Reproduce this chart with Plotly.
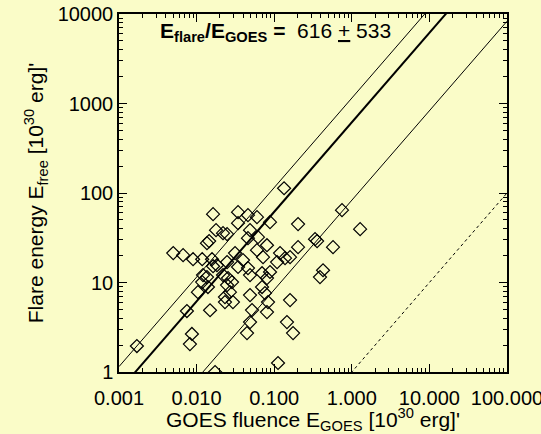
import numpy as np
import plotly.graph_objects as go

# GOES fluence (10^30 erg) and free flare energy (10^30 erg) per event
goes_fluence = [
    0.0017, 0.0050, 0.0067, 0.0090, 0.0118, 0.0136, 0.0145, 0.0158, 0.0163, 0.0163,
    0.0178, 0.0247, 0.0121, 0.0136, 0.0118, 0.0104, 0.0140, 0.0075, 0.0149, 0.0087,
    0.0082, 0.0173, 0.0342, 0.0459, 0.0600, 0.0883, 0.203, 0.0219, 0.0342, 0.0488,
    0.0618, 0.0807, 0.203, 0.0600, 0.0718, 0.119, 0.138, 0.109, 0.0183, 0.0247,
    0.0313, 0.0342, 0.0459, 0.0396, 0.0219, 0.0254, 0.0286, 0.0697, 0.0883, 0.0807,
    0.0247, 0.0269, 0.0232, 0.0294, 0.0488, 0.0518, 0.0697, 0.0760, 0.0832, 0.0807,
    0.160, 0.0488, 0.0446, 0.146, 0.175, 0.112, 0.748, 1.28, 0.336, 0.357,
    0.573, 0.160, 0.426, 0.389, 0.134, 0.0459, 0.0488, 0.0232,
]
free_energy = [
    1.95, 21.3, 20.2, 18.2, 18.2, 27.5, 29.0, 18.2, 15.2, 58.0,
    38.4, 34.7, 12.1, 11.5, 10.1, 7.8, 8.9, 4.8, 4.9, 2.66,
    2.05, 1.0, 61.1, 56.5, 53.7, 47.2, 44.9, 35.6, 46.0, 38.4,
    32.1, 26.1, 24.8, 23.0, 19.2, 21.3, 18.7, 16.9, 15.6, 16.9,
    21.3, 14.9, 14.5, 17.8, 12.1, 11.2, 10.1, 12.7, 13.1, 11.2,
    9.35, 7.8, 6.87, 6.04, 7.23, 4.92, 8.9, 7.61, 6.04, 4.67,
    6.36, 3.61, 2.72, 3.61, 2.72, 1.26, 64.3, 39.4, 30.5, 29.0,
    24.8, 19.2, 13.7, 11.5, 113, 31.3, 12.1, 6.04,
]

# Energy ratio E_flare / E_GOES: mean and standard deviation
ratio_mean = 616
ratio_std = 533

x_tickvals = [0.001, 0.01, 0.1, 1, 10, 100]
x_ticktext = ["0.001", "0.010", "0.100", "1.000", "10.000", "100.000"]
y_tickvals = [1, 10, 100, 1000, 10000]
y_ticktext = ["1", "10", "100", "1000", "10000"]

bg = "#FAFCC8"
font_family = "Liberation Sans, Arial, sans-serif"

x_line = np.array([x_tickvals[0], x_tickvals[-1]])

fig = go.Figure()

# equality line E_flare = E_GOES
fig.add_trace(go.Scatter(x=x_line, y=x_line, mode="lines",
                         line=dict(color="black", width=1, dash="dot"),
                         showlegend=False, hoverinfo="skip"))
# mean ratio and +/- one standard deviation
for r, w in [(ratio_mean + ratio_std, 1), (ratio_mean, 2), (ratio_mean - ratio_std, 1)]:
    fig.add_trace(go.Scatter(x=x_line, y=r * x_line, mode="lines",
                             line=dict(color="black", width=w),
                             showlegend=False, hoverinfo="skip"))

fig.add_trace(go.Scatter(x=goes_fluence, y=free_energy, mode="markers",
                         marker=dict(symbol="diamond-open", size=10, color="black",
                                     line=dict(width=1.2, color="black")),
                         showlegend=False))

axis_common = dict(
    type="log", showgrid=False, zeroline=False, automargin=False,
    showline=True, linecolor="black", linewidth=1.5, mirror="allticks",
    ticks="inside", ticklen=8, tickwidth=1.2, tickcolor="black",
    minor=dict(ticks="inside", ticklen=4, tickwidth=1, tickcolor="black", dtick="D1"),
    tickfont=dict(family=font_family, size=20, color="black"),
    title_font=dict(family=font_family, size=21, color="black"),
    ticklabeloverflow="allow",
)

fig.update_xaxes(**axis_common, range=[-3, 2], tickmode="array",
                 tickvals=x_tickvals, ticktext=x_ticktext,
                 ticklabelstandoff=7,
                 title_text="GOES fluence E<sub>GOES</sub> [10<sup>30</sup> erg]'",
                 title_standoff=8)
fig.update_yaxes(**axis_common, range=[0, 4], tickmode="array",
                 tickvals=y_tickvals, ticktext=y_ticktext,
                 title_text="Flare energy E<sub>free</sub> [10<sup>30</sup> erg]'",
                 title_standoff=8)

fig.add_annotation(
    x=0.1, y=0.95, xref="paper", yref="paper", xanchor="left", yanchor="middle",
    text="<b>E<sub>flare</sub>/E<sub>GOES</sub> =</b>  616 <u>+</u> 533",
    showarrow=False, font=dict(family=font_family, size=21, color="black"),
)

fig.update_layout(
    width=541, height=434,
    margin=dict(l=119, r=34, t=14, b=62),
    paper_bgcolor=bg, plot_bgcolor=bg,
    font=dict(family=font_family, color="black"),
)

fig.write_html("out.html")
